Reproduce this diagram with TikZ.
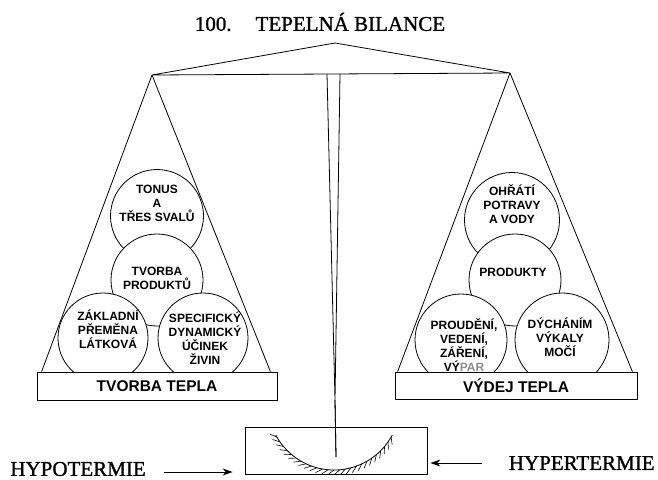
\documentclass[tikz,border=0pt]{standalone}
\usepackage{fontspec}
\setmainfont{Liberation Serif}
\setsansfont{Liberation Sans}
\newfontfamily\heavyserif{Liberation Serif}[FakeBold=1.2]
\usetikzlibrary{arrows.meta, calc}

\begin{document}
\begin{tikzpicture}[
  x=1pt, y=-1pt,
  line width=0.8pt, line join=round,
  every node/.style={inner sep=0pt},
  bub/.style={draw, circle, fill=white, minimum size=#1},
  bub/.default=92pt,
  txt/.style={align=center, font=\sffamily\bfseries\fontsize{12}{14}\selectfont},
  pan/.style={draw, fill=white, minimum height=28pt, font=\sffamily\bfseries\fontsize{15.5}{18}\selectfont},
  big/.style={font=\heavyserif\fontsize{21}{24}\selectfont},
  arr/.style={-{Stealth[length=10pt, width=7pt]}, line width=1pt}
]
  \useasboundingbox (0,0) rectangle (658,479);

  \node[big] (title) at (320,22) {100.\hspace{24pt}TEPELNÁ BILANCE};

  % beam and post
  \coordinate (apex) at (335,43);
  \coordinate (lend) at (152,75);
  \coordinate (rend) at (510,73);
  \coordinate (postl) at (327,74);
  \coordinate (postr) at (340,74);
  \coordinate (tip) at (335,400);
  \coordinate (needle) at (336,457);
  \draw (lend) -- (apex) -- (rend) -- cycle;
  \draw (postl) -- (tip) -- (postr);
  \draw (tip) -- (needle);

  % heat production
  \node[bub=93pt] (tonus) at (157,216) {};
  \node[bub] (tvorba) at (157,280) {};
  \node[bub=90pt] (zakl) at (103,338) {};
  \node[bub=90pt] (spec) at (203,338) {};
  \node[txt] (tonus-t) at ([yshift=13pt]tonus) {TONUS\\A\\TŘES SVALŮ};
  \node[txt] (tvorba-t) at ([yshift=2pt]tvorba) {TVORBA\\PRODUKTŮ};
  \node[txt] (zakl-t) at ([xshift=5pt, yshift=9pt]zakl) {ZÁKLADNÍ\\PŘEMĚNA\\LÁTKOVÁ};
  \node[txt] (spec-t) at ([xshift=2pt]spec) {SPECIFICKÝ\\DYNAMICKÝ\\ÚČINEK\\ŽIVIN};

  % heat loss
  \node[bub=95pt] (ohrati) at (512,220) {};
  \node[bub] (prod) at (515,280) {};
  \node[bub] (proud) at (461,340) {};
  \node[bub=94pt] (dych) at (562,340) {};
  \node[txt] (ohrati-t) at ([yshift=16pt]ohrati) {OHŘÁTÍ\\POTRAVY\\A VODY};
  \node[txt] (prod-t) at ([xshift=-2pt, yshift=8pt]prod) {PRODUKTY};
  \node[txt] (proud-t) at ([xshift=3pt, yshift=-5pt]proud) {PROUDĚNÍ,\\VEDENÍ,\\ZÁŘENÍ,\\VÝ{\color{black!45}PAR}};
  \node[txt] (dych-t) at ([xshift=-2pt, yshift=3pt]dych) {DÝCHÁNÍM\\VÝKALY\\MOČÍ};

  % pans
  \node[pan, minimum width=240pt] (lpan) at (157,386) {TVORBA TEPLA};
  \node[pan, minimum width=242pt, minimum height=27pt] (rpan) at (516,385.5) {VÝDEJ TEPLA};
  \draw ([xshift=5pt]lpan.north west) -- (lend) -- ([xshift=-7pt]lpan.north east);
  \draw ([xshift=3pt]rpan.north west) -- (rend) -- ([xshift=-5pt]rpan.north east);

  % dial
  \node[draw, minimum width=182pt, minimum height=47pt] (dial) at (336,450.5) {};
  \coordinate (dialc) at (334,404);
  \draw (dialc) ++(28:66) arc[start angle=28, end angle=152, radius=66];
  \foreach \a in {30,35,...,150}
    \draw[line width=0.6pt] ($(dialc)+(\a:66)$) -- ($(dialc)+(\a+5:71)$);
  \draw (tip) -- (needle);

  \node[big, anchor=west] (hypo) at (10,469) {HYPOTERMIE};
  \node[big, anchor=east] (hyper) at (655,463) {HYPERTERMIE};
  \draw[arr] ($(hypo.east)+(18,3)$) -- ($(dial.west |- hypo.east)+(-12,3)$);
  \draw[arr] ($(hyper.west)+(-26,0)$) -- ($(dial.east |- hyper.west)+(3,0)$);
\end{tikzpicture}
\end{document}
